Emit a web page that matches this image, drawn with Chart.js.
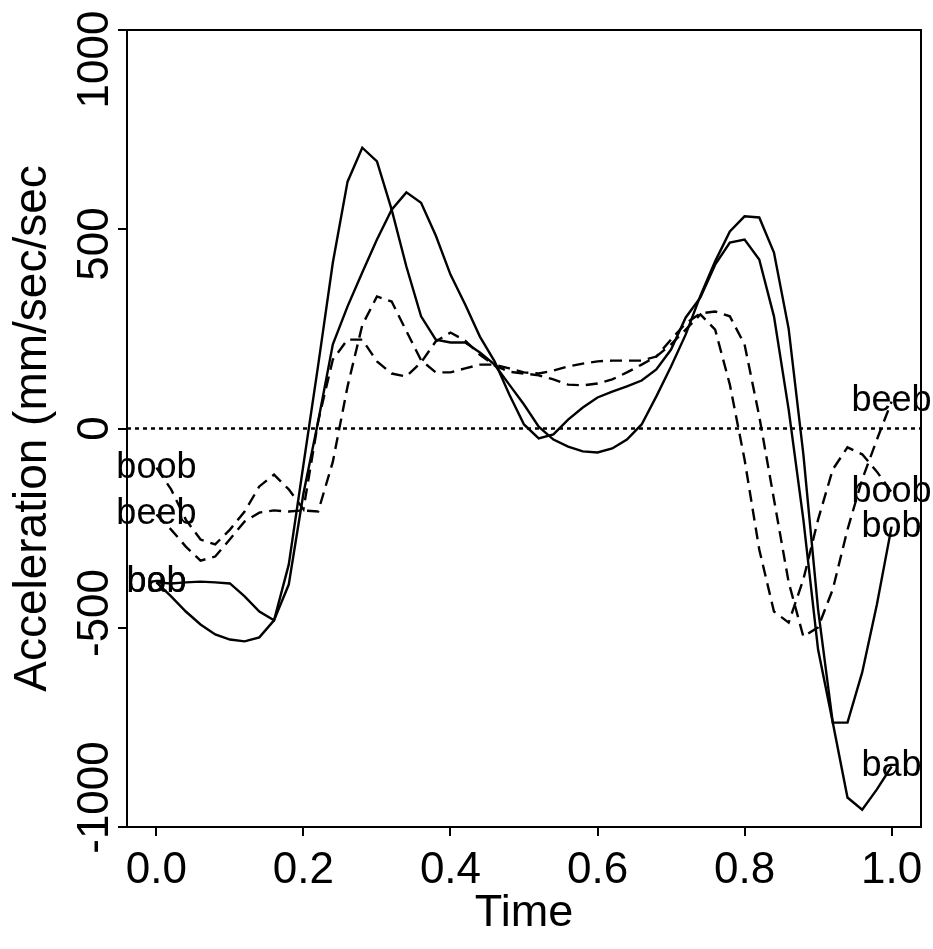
<!DOCTYPE html>
<html>
<head>
<meta charset="utf-8">
<script src="https://cdn.jsdelivr.net/npm/chart.js@4.4.1/dist/chart.umd.min.js"></script>
<style>
  html, body { margin: 0; padding: 0; background: #fff; }
</style>
</head>
<body>
<canvas id="chartAccel" width="933" height="949"></canvas>
<script>
// time grid (51 samples)
const times = [0.00, 0.02, 0.04, 0.06, 0.08, 0.10, 0.12, 0.14, 0.16, 0.18,
  0.20, 0.22, 0.24, 0.26, 0.28, 0.30, 0.32, 0.34, 0.36, 0.38,
  0.40, 0.42, 0.44, 0.46, 0.48, 0.50, 0.52, 0.54, 0.56, 0.58,
  0.60, 0.62, 0.64, 0.66, 0.68, 0.70, 0.72, 0.74, 0.76, 0.78,
  0.80, 0.82, 0.84, 0.86, 0.88, 0.90, 0.92, 0.94, 0.96, 0.98, 1.00];

// acceleration (mm/sec/sec)
const bab = [-417, -455, -496, -531, -558, -572, -577, -566, -520, -369,
  -98, 171, 450, 669, 761, 724, 593, 439, 304, 241,
  233, 233, 206, 173, 119, 65, 5, -30, -49, -62,
  -65, -54, -30, 11, 87, 168, 255, 360, 453, 534,
  575, 572, 477, 270, -70, -490, -797, -1000, -1033, -978, -916];

const bob = [-417, -420, -417, -415, -417, -420, -455, -496, -520, -423,
  -176, 19, 228, 331, 423, 512, 593, 640, 612, 523,
  417, 336, 249, 182, 92, 11, -27, -16, 24, 57,
  84, 100, 114, 130, 160, 214, 301, 355, 444, 504,
  512, 458, 304, 51, -247, -599, -797, -797, -661, -477, -266];

const beeb = [-233, -274, -320, -358, -347, -300, -252, -228, -222, -225,
  -222, -225, -90, 114, 280, 358, 344, 264, 185, 152,
  152, 163, 173, 173, 163, 152, 149, 157, 168, 176,
  182, 184, 184, 184, 195, 241, 285, 312, 317, 304,
  228, 33, -192, -417, -564, -539, -436, -274, -138, -30, 73];

const boob = [-106, -165, -247, -301, -314, -274, -225, -157, -125, -165,
  -219, 19, 187, 241, 241, 182, 149, 141, 179, 236,
  260, 238, 200, 171, 154, 149, 144, 133, 119, 117,
  122, 133, 152, 173, 195, 228, 268, 309, 268, 119,
  -84, -328, -496, -526, -409, -247, -111, -51, -70, -117, -173];

const yTicks = [-1000, -500, 0, 500, 1000];

const FONT = '"Liberation Sans", Arial, Helvetica, sans-serif';

function pts(vals) {
  return times.map((t, i) => ({ x: t, y: vals[i] }));
}

function curve(name, vals, dash) {
  return {
    label: name,
    data: pts(vals),
    borderColor: '#000',
    borderWidth: 2.4,
    borderDash: dash,
    pointRadius: 0,
    tension: 0,
    fill: false
  };
}

// zero reference line spans the whole x range
const zeroLine = {
  label: 'zero',
  data: [{ x: -0.04, y: 0 }, { x: 1.04, y: 0 }],
  borderColor: '#000',
  borderWidth: 2.5,
  borderDash: [4, 4],
  pointRadius: 0,
  fill: false
};

const endLabels = {
  id: 'endLabels',
  afterDatasetsDraw(chart) {
    const c = chart.ctx;
    c.save();
    c.fillStyle = '#000';
    c.font = '36px ' + FONT;
    c.textAlign = 'center';
    c.textBaseline = 'middle';
    chart.data.datasets.forEach((ds, i) => {
      if (ds.label === 'zero') return;
      const meta = chart.getDatasetMeta(i);
      const a = meta.data[0];
      const b = meta.data[meta.data.length - 1];
      c.fillText(ds.label, a.x, a.y);
      c.fillText(ds.label, b.x, b.y);
    });
    c.restore();
  }
};

const frameAndY = {
  id: 'frameAndY',
  afterDraw(chart) {
    const c = chart.ctx;
    const a = chart.chartArea;
    c.save();
    c.strokeStyle = '#000';
    c.lineWidth = 2;
    c.strokeRect(a.left, a.top, a.right - a.left, a.bottom - a.top);
    // rotated y tick labels, R style
    const ys = chart.scales.y;
    c.fillStyle = '#000';
    c.font = '44px ' + FONT;
    c.textAlign = 'center';
    c.textBaseline = 'middle';
    yTicks.forEach(v => {
      const py = ys.getPixelForValue(v);
      c.save();
      c.translate(96, py);
      c.rotate(-Math.PI / 2);
      c.fillText(String(v), 0, 0);
      c.restore();
    });
    c.restore();
  }
};

const ctx = document.getElementById('chartAccel');

new Chart(ctx, {
  type: 'line',
  data: {
    datasets: [
      zeroLine,
      curve('bab', bab, []),
      curve('bob', bob, []),
      curve('beeb', beeb, [12, 7]),
      curve('boob', boob, [12, 7])
    ]
  },
  options: {
    responsive: false,
    animation: false,
    devicePixelRatio: 1,
    layout: { padding: { top: 30, right: 12, bottom: 0, left: 0 } },
    plugins: {
      legend: { display: false },
      tooltip: { enabled: false }
    },
    scales: {
      x: {
        type: 'linear',
        min: -0.04,
        max: 1.04,
        afterFit: s => { s.height = 122; },
        border: { display: false },
        grid: { drawOnChartArea: false, drawTicks: true, tickLength: 9, color: '#000', lineWidth: 2 },
        ticks: {
          stepSize: 0.2,
          includeBounds: false,
          autoSkip: false,
          maxRotation: 0,
          padding: 8,
          color: '#000',
          font: { family: FONT, size: 44 },
          callback: v => v.toFixed(1)
        },
        title: {
          display: true,
          text: 'Time',
          color: '#000',
          font: { family: FONT, size: 45 },
          padding: { top: 0, bottom: 8 }
        }
      },
      y: {
        type: 'linear',
        min: -1080,
        max: 1080,
        afterFit: s => { s.width = 127; },
        border: { display: false },
        grid: { drawOnChartArea: false, drawTicks: true, tickLength: 9, color: '#000', lineWidth: 2 },
        ticks: {
          stepSize: 500,
          includeBounds: false,
          display: false
        },
        title: {
          display: true,
          text: 'Acceleration (mm/sec/sec',
          color: '#000',
          font: { family: FONT, size: 46 },
          padding: { top: 6, bottom: 0 }
        }
      }
    }
  },
  plugins: [endLabels, frameAndY]
});
</script>
</body>
</html>
